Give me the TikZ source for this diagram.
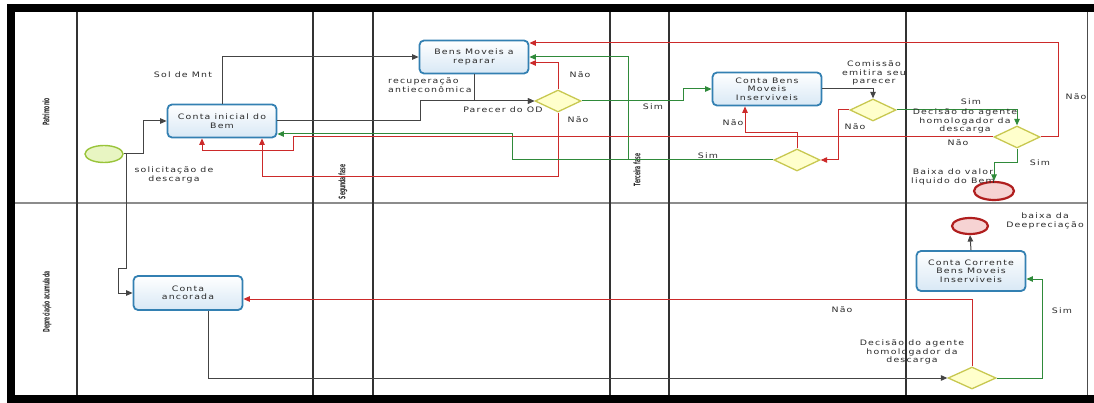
\documentclass[tikz,border=0pt]{standalone}
\usepackage{fontspec}
\usetikzlibrary{shapes.geometric,arrows.meta}
\newfontfamily\bpfont[FakeStretch=1.25,LetterSpace=16]{DejaVu Sans}
\newfontfamily\lanefont[FakeStretch=0.5]{DejaVu Sans}
\definecolor{taskblue}{HTML}{3380B2}
\definecolor{taskfill}{HTML}{D8E8F5}
\definecolor{gwdraw}{HTML}{C8C850}
\definecolor{gwfill}{HTML}{FFFFCC}
\definecolor{stdraw}{HTML}{99C43A}
\definecolor{stfill}{HTML}{E8F5C2}
\definecolor{enddraw}{HTML}{B01E1E}
\definecolor{endfill}{HTML}{F6D3D3}
\definecolor{lred}{HTML}{CC2A2A}
\definecolor{lgreen}{HTML}{2F8A3A}
\definecolor{lblack}{HTML}{444444}
\definecolor{txt}{HTML}{2A2A2A}
\begin{document}
\begin{tikzpicture}[x=1pt,y=-1pt,
  bpf/.style={font=\bpfont\fontsize{7.5}{8.5}\selectfont,text=txt},
  task/.style={bpf,draw=taskblue,line width=1.8pt,rounded corners=4.5pt,top color=white,bottom color=taskfill,minimum width=109pt,minimum height=33pt,inner sep=1pt,align=center},
  gw/.style={diamond,draw=gwdraw,fill=gwfill,line width=1.3pt,minimum width=46pt,minimum height=22pt,inner sep=0pt},
  startev/.style={ellipse,draw=stdraw,fill=stfill,line width=1.4pt,minimum width=38pt,minimum height=17pt,inner sep=0pt},
  endev/.style={ellipse,draw=enddraw,fill=endfill,line width=2.2pt,minimum width=40pt,minimum height=18pt,inner sep=0pt},
  lbl/.style={bpf,align=center,inner sep=0pt},
  lane/.style={font=\lanefont\bfseries\fontsize{9}{10}\selectfont,text=black!85,inner sep=0pt,rotate=90},
  conn/.style={line width=1pt,-{Triangle[length=6.5pt,width=5.5pt]}},
  blk/.style={conn,draw=lblack},
  rd/.style={conn,draw=lred},
  gr/.style={conn,draw=lgreen}
]
\useasboundingbox (0,0) rectangle (1094,403);
% frame and lanes
\fill[black] (7,4) rectangle (1094,12);
\fill[black] (7,4) rectangle (15,403);
\fill[black] (7,395) rectangle (1094,403);
\draw[black!70,line width=1pt] (1087,12) -- (1087,395);
\draw[black!45,line width=1.8pt] (15,203) -- (1087,203);
\foreach \xx in {77,313,373,610,669,906} \draw[black!80,line width=1.2pt] (\xx,12) -- (\xx,395);
\node[lane] (lp) at (46,112) {Patrimonio};
\node[lane] (ld) at (47,302) {Depreciação acumulada};
\node[lane] (ls) at (343,182) {Segunda fase};
\node[lane] (lt) at (637,170) {Terceira fase};
% nodes
\node[startev] (st) at (104,154) {};
\node[task] (cib) at (222,121) {Conta inicial do\\Bem};
\node[task] (bmr) at (474,57) {Bens Moveis a\\reparar};
\node[gw] (g1) at (558,101) {};
\node[task] (cbi) at (767,89) {Conta Bens\\Moveis\\Inserviveis};
\node[gw] (g2) at (873,110) {};
\node[gw] (g3) at (797,160) {};
\node[gw] (g4) at (1017,137) {};
\node[endev] (e1) at (994,191) {};
\node[endev,minimum width=36pt,minimum height=16pt] (e2) at (970,226) {};
\node[task,minimum height=40pt] (ccb) at (971,271) {Conta Corrente\\Bens Moveis\\Inserviveis};
\node[gw,minimum width=48pt] (g5) at (972,378) {};
\node[task,minimum height=34pt] (can) at (188,293) {Conta\\ancorada};
% connectors
\draw[blk] (st.east) -- (143,154) |- (cib.west);
\draw[blk] (st.east) -- (126,154) -- (126,268) -- (118,268) |- (can.west);
\draw[blk] (cib.north) |- (bmr.west);
\draw[blk] (cib.east) -- (420,121) |- (g1.west);
\draw[blk] (bmr.south) |- (g1.west);
\draw[rd] (g1.north) |- ([yshift=-6pt]bmr.east);
\draw[rd] (g1.south) -- (558,177) -| ([xshift=40pt]cib.south);
\draw[gr] (g1.east) -- (683,101) |- (cbi.west);
\draw[blk] (cbi.east) -| (g2.north);
\draw[gr] (g2.east) -| (g4.north);
\draw[rd] (g2.west) -- (838,110) |- (g3.east);
\draw[rd] (g3.north) -- (797,133) -| ([xshift=-22pt]cbi.south);
\draw[gr] (g3.west) -- (512,160) |- ([yshift=-13pt]cib.east);
\draw[gr] (g3.west) -- (628,160) |- (bmr.east);
\draw[rd] (g4.east) -- (1058,137) |- ([yshift=14pt]bmr.east);
\draw[rd] (g4.west) -- (293,137) -- (293,151) -| ([xshift=-20pt]cib.south);
\draw[gr] (g4.south) -- (1017,163) -| (e1.north);
\draw[blk] ([xshift=20pt]can.south) |- (g5.west);
\draw[rd] (g5.north) |- ([yshift=-6pt]can.east);
\draw[gr] (g5.east) -- (1042,378) |- ([yshift=-8pt]ccb.east);
\draw[blk] (ccb.north) -- (e2.south);
% labels
\node[lbl] (t1) at (183,75) {Sol de Mnt};
\node[lbl] (t2) at (174,175) {solicitação de\\descarga};
\node[lbl,anchor=west,align=left] (t3) at (388,85) {recuperação\\antieconômica};
\node[lbl] (t4) at (503,110) {Parecer do OD};
\node[lbl] (t5) at (580,75) {Não};
\node[lbl] (t6) at (578,120) {Não};
\node[lbl] (t7) at (653,107) {Sim};
\node[lbl] (t8) at (708,156) {Sim};
\node[lbl] (t9) at (733,123) {Não};
\node[lbl] (t10) at (874,73) {Comissão\\emitira seu\\parecer};
\node[lbl] (t11) at (855,127) {Não};
\node[lbl] (t12) at (971,102) {Sim};
\node[lbl] (t13) at (965,121) {Decisão do agente\\homologador da\\descarga};
\node[lbl] (t14) at (958,143) {Não};
\node[lbl] (t15) at (1076,97) {Não};
\node[lbl] (t16) at (1040,163) {Sim};
\node[lbl] (t17) at (953,177) {Baixa do valor\\liquido do Bem};
\node[lbl] (t18) at (1045,221) {baixa da\\Deepreciação};
\node[lbl] (t19) at (842,310) {Não};
\node[lbl] (t20) at (1062,311) {Sim};
\node[lbl] (t21) at (912,352) {Decisão do agente\\homologador da\\descarga};
\end{tikzpicture}
\end{document}
